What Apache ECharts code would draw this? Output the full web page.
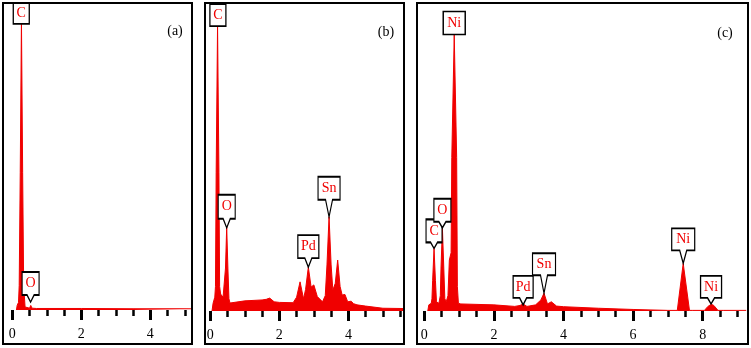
<!DOCTYPE html>
<html>
<head>
<meta charset="utf-8">
<script src="https://cdn.jsdelivr.net/npm/echarts@6/dist/echarts.min.js"></script>
<style>
  html, body { margin: 0; padding: 0; background: #fff; }
  #chart { width: 751px; height: 348px; }
</style>
</head>
<body>
<div id="chart"></div>
<script>
// panel (a)
const energyA = [0.12, 0.14, 0.18, 0.2, 0.23, 0.265, 0.3, 0.33, 0.37, 0.42, 0.5, 0.535, 0.57, 0.7, 2.0, 3.5, 5.2];
const countsA = [0, 1.5, 2.5, 8, 45, 95, 45, 8, 1.0, 0.5, 0.6, 1.5, 0.6, 0.5, 0.5, 0.4, 0.4];
const peaksA = ['C', 'O'];
const peakXA = [0.26, 0.53];
const peakYA = [93.5, 2.6];

// panel (b)
const energyB = [0.05, 0.08, 0.13, 0.15, 0.17, 0.21, 0.25, 0.27, 0.3, 0.37, 0.41, 0.44, 0.475, 0.51, 0.54, 0.57, 0.62,
  1.0, 1.5, 1.62, 1.72, 1.85, 2.0, 2.4, 2.5, 2.6, 2.7, 2.76, 2.84, 2.92, 3.0, 3.1, 3.25, 3.33, 3.38, 3.44, 3.5,
  3.55, 3.62, 3.69, 3.76, 3.82, 3.9, 3.98, 4.08, 4.15, 4.25, 4.5, 5.0, 5.62];
const countsB = [0, 2.5, 4.5, 8, 45, 93, 45, 8, 5.5, 4.5, 5, 14, 27.4, 14, 4, 2.6, 3.0,
  3.3, 3.6, 3.8, 4.2, 3.0, 2.8, 2.7, 4.5, 9.5, 4.0, 7, 14.3, 7.8, 8.5, 4.7, 3.0, 5, 15, 30.7, 15,
  6.8, 9, 16.6, 8, 5.2, 5.4, 3.0, 3.2, 2.4, 2.0, 1.6, 0.9, 0.8];
const peaksB = ['C', 'O', 'Pd', 'Sn'];
const peakXB = [0.22, 0.475, 2.84, 3.44];
const peakYB = [92.8, 27.1, 14.3, 30.7];

// panel (c)
const energyC = [0.1, 0.13, 0.2, 0.22, 0.24, 0.28, 0.32, 0.35, 0.42, 0.46, 0.48, 0.52, 0.56, 0.59, 0.63, 0.68, 0.72, 0.77,
  0.79, 0.86, 0.93, 0.95, 0.98, 1.05, 2.0, 2.6, 2.75, 2.84, 2.95, 3.2, 3.35, 3.44, 3.54, 3.65, 3.8, 4.0, 5.0, 6.0, 7.0,
  7.27, 7.44, 7.62, 7.7, 8.05, 8.15, 8.25, 8.32, 8.44, 8.6, 9.25];
const countsC = [0, 2.0, 2.5, 4, 10, 20.4, 10, 3, 2.5, 5, 14, 27.1, 14, 4, 3.0, 5, 16.6, 19,
  50, 89.9, 50, 8, 2.5, 2.3, 2.0, 1.5, 1.8, 2.3, 1.5, 2.0, 3.6, 5.8, 2.3, 3.0, 1.6, 1.4, 0.9, 0.5, 0.2,
  0.2, 15.5, 0.2, 0.2, 0.2, 1.5, 2.2, 1.8, 0.2, 0.2, 0.2];
const peaksC = ['Ni', 'C', 'O', 'Pd', 'Sn', 'Ni', 'Ni'];
const peakXC = [0.86, 0.28, 0.52, 2.84, 3.44, 7.44, 8.24];
const peakYC = [90.1, 20.4, 27.1, 2.0, 5.8, 15.5, 2.3];

// ticks
const minorTicksA = [0, 0.5, 1, 1.5, 2, 2.5, 3, 3.5, 4, 4.5, 5];
const minorTicksB = [0, 0.5, 1, 1.5, 2, 2.5, 3, 3.5, 4, 4.5, 5, 5.5];
const minorTicksC = [0, 0.5, 1, 1.5, 2, 2.5, 3, 3.5, 4, 4.5, 5, 5.5, 6, 6.5, 7, 7.5, 8, 8.5, 9];
const majorTicksA = [0, 2, 4];
const majorTicksB = [0, 2, 4];
const majorTicksC = [0, 2, 4, 6, 8];

const RED = '#f00000';
const SERIF = "'Liberation Serif', 'Times New Roman', serif";

// callout box sizes [width, boxHeight, pointerLength]
const boxesA = [[16, 21, 0], [17, 23, 7]];
const boxesB = [[16, 22, 0], [17, 24, 9], [21, 23, 9], [22, 23, 17]];
const boxesC = [[22, 23, 0], [16, 23, 6], [17, 23, 6], [20, 22, 7], [23, 22, 18], [23, 22, 13], [21, 22, 6]];

function callouts(names, xs, ys, boxes) {
  return names.map((n, i) => {
    const [w, h, p] = boxes[i];
    const path = p
      ? `path://M0,0H${w}V${h}H${w / 2 + 3.5}L${w / 2},${h + p}L${w / 2 - 3.5},${h}H0Z`
      : `path://M0,0H${w}V${h}H0Z`;
    return {
      name: n,
      coord: [xs[i], ys[i]],
      symbol: path,
      symbolSize: [w, h + p],
      symbolOffset: [0, -(h + p) / 2],
      label: { offset: [0, -p / 2] },
    };
  });
}

const panels = [
  { left: 12.3, width: 179.4, height: 306, max: 5.2, energy: energyA, counts: countsA,
    marks: callouts(peaksA, peakXA, peakYA, boxesA), minor: minorTicksA, major: majorTicksA },
  { left: 210.3, width: 194, height: 307, max: 5.62, energy: energyB, counts: countsB,
    marks: callouts(peaksB, peakXB, peakYB, boxesB), minor: minorTicksB, major: majorTicksB },
  { left: 424.3, width: 321.9, height: 307, max: 9.25, energy: energyC, counts: countsC,
    marks: callouts(peaksC, peakXC, peakYC, boxesC), minor: minorTicksC, major: majorTicksC },
];

const chart = echarts.init(document.getElementById('chart'));

const grid = [];
const xAxis = [];
const yAxis = [];
const series = [];

panels.forEach((p, i) => {
  grid.push({ left: p.left, top: 4, width: p.width, height: p.height, outerBoundsMode: 'none' });
  xAxis.push({
    type: 'value', gridIndex: i, position: 'bottom', min: 0, max: p.max,
    axisLine: { show: false },
    splitLine: { show: false },
    axisTick: { customValues: p.minor, length: 6, lineStyle: { color: '#000', width: 2.5 } },
    axisLabel: { show: false },
  });
  xAxis.push({
    type: 'value', gridIndex: i, position: 'bottom', min: 0, max: p.max,
    axisLine: { show: false },
    splitLine: { show: false },
    axisTick: { customValues: p.major, length: 10, lineStyle: { color: '#000', width: 3 } },
    axisLabel: { customValues: p.major, margin: 17, fontSize: 14, fontFamily: SERIF, color: '#000' },
  });
  yAxis.push({ type: 'value', gridIndex: i, min: 0, max: 100, show: false });
  series.push({
    type: 'line',
    xAxisIndex: i * 2,
    yAxisIndex: i,
    data: p.energy.map((e, k) => [e, p.counts[k]]),
    showSymbol: false,
    lineStyle: { color: RED, width: 1 },
    areaStyle: { color: RED, opacity: 1 },
    markPoint: {
      data: p.marks,
      itemStyle: { color: '#fff', borderColor: '#000', borderWidth: 1.5 },
      label: { formatter: '{b}', color: RED, fontSize: 14, fontFamily: SERIF },
    },
  });
});

const frames = [[3, 3, 189, 341], [205, 3, 199, 341], [417, 3, 331, 341]];
const tags = [['(a)', 175, 31], ['(b)', 386, 32], ['(c)', 725, 33]];

const graphic = frames.map(([x, y, w, h]) => ({
  type: 'rect', z: 100, silent: true,
  shape: { x, y, width: w, height: h },
  style: { fill: null, stroke: '#000', lineWidth: 2 },
})).concat(tags.map(([t, x, y]) => ({
  type: 'text', z: 100, x, y,
  style: { text: t, fill: '#000', fontSize: 14, fontFamily: SERIF, align: 'center', verticalAlign: 'middle' },
})));

chart.setOption({
  animation: false,
  grid,
  xAxis,
  yAxis,
  series,
  graphic,
});

window.addEventListener('resize', () => chart.resize());
</script>
</body>
</html>
